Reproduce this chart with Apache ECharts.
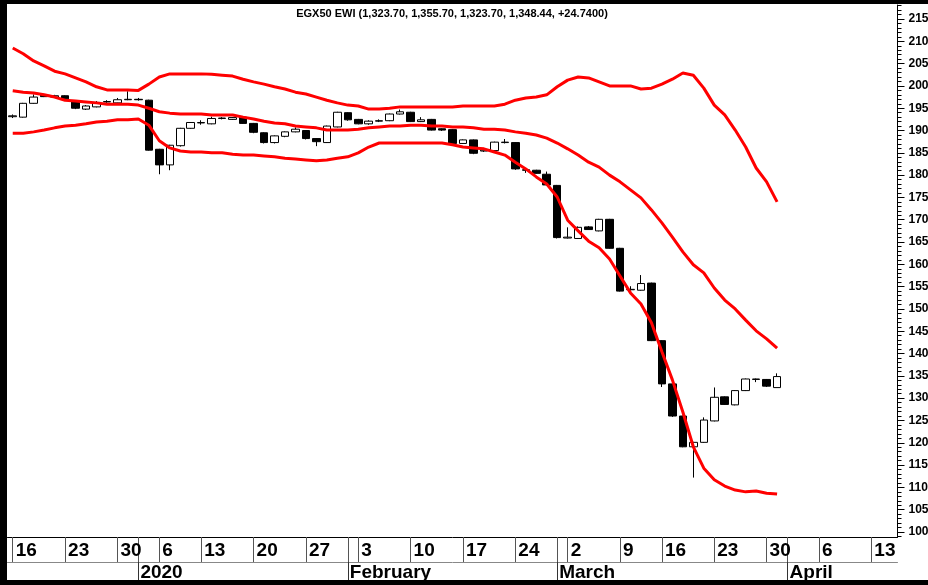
<!DOCTYPE html>
<html><head><meta charset="utf-8">
<script src="https://cdn.jsdelivr.net/npm/echarts@6/dist/echarts.min.js"></script>
<style>html,body{margin:0;padding:0;background:#fff}#c{width:928px;height:585px}</style>
</head><body><div id="c"></div>
<script>
// Trading days (category axis), Dec 16 2019 .. Apr 15 2020
const dates = [
"2019-12-16","2019-12-17","2019-12-18","2019-12-19","2019-12-22","2019-12-23","2019-12-24","2019-12-25","2019-12-26","2019-12-29","2019-12-30","2019-12-31",
"2020-01-02","2020-01-05","2020-01-06","2020-01-08","2020-01-09","2020-01-12","2020-01-13","2020-01-14","2020-01-15","2020-01-16","2020-01-19","2020-01-20","2020-01-21","2020-01-22","2020-01-23","2020-01-26","2020-01-27","2020-01-28","2020-01-29","2020-01-30",
"2020-02-02","2020-02-03","2020-02-04","2020-02-05","2020-02-06","2020-02-09","2020-02-10","2020-02-11","2020-02-12","2020-02-13","2020-02-16","2020-02-17","2020-02-18","2020-02-19","2020-02-20","2020-02-23","2020-02-24","2020-02-25","2020-02-26","2020-02-27",
"2020-03-01","2020-03-02","2020-03-03","2020-03-04","2020-03-05","2020-03-08","2020-03-09","2020-03-10","2020-03-11","2020-03-15","2020-03-16","2020-03-17","2020-03-18","2020-03-19","2020-03-22","2020-03-23","2020-03-24","2020-03-25","2020-03-26","2020-03-29","2020-03-30","2020-03-31",
"2020-04-01","2020-04-02","2020-04-05","2020-04-06","2020-04-07","2020-04-08","2020-04-09","2020-04-12","2020-04-13","2020-04-14","2020-04-15"
];
const monthLabels = {"01":"2020","02":"February","03":"March","04":"April"};

const opens  = [1931,1930,1961,1980,1975,1978,1966,1948,1953,1964,1962,1969,1970,1968,1858,1823,1866,1905,1917,1915,1927,1925,1930,1916,1895,1873,1887,1897,1900,1882,1873,1908,1940,1925,1915,1921,1922,1937,1941,1920,1925,1904,1902,1871,1879,1854,1855,1873,1873,1812,1811,1802,1777,1659,1658,1684,1675,1701,1636,1543,1542,1558,1429,1332,1260,1191,1201,1249,1303,1285,1317,1342,1342,1323.7];
const closes = [1933,1961,1975,1976,1978,1971,1950,1955,1963,1965,1969,1970,1969,1856,1823,1867,1905,1918,1918,1927,1928,1929,1916,1896,1873,1888,1897,1903,1882,1875,1910,1941,1924,1915,1921,1922,1937,1942,1920,1924,1901,1901,1871,1879,1849,1856,1874,1874,1814,1811,1804,1778,1660,1661,1683,1678,1701,1636,1540,1544,1557,1429,1332,1260,1191,1201,1251,1302,1286,1317,1343,1343,1327,1348.44];
const lows   = [1928,1929,1960,1975,1973,1970,1948,1946,1952,1962,1961,1968,1967,1855,1802,1811,1864,1904,1913,1914,1925,1924,1915,1894,1871,1871,1885,1896,1880,1865,1872,1907,1922,1914,1913,1919,1921,1936,1919,1919,1900,1899,1870,1870,1847,1852,1854,1871,1812,1805,1803,1777,1658,1658,1657,1677,1674,1635,1539,1541,1541,1428,1325,1258,1190,1122,1200,1248,1285,1284,1316,1336,1325,1323.7];
const highs  = [1936,1962,1981,1982,1980,1979,1967,1957,1966,1968,1973,1988,1973,1969,1859,1868,1906,1919,1923,1931,1930,1930,1931,1917,1896,1889,1898,1907,1901,1883,1911,1942,1941,1926,1923,1925,1938,1947,1942,1930,1926,1905,1903,1880,1880,1858,1875,1881,1874,1814,1812,1808,1778,1683,1685,1686,1702,1702,1637,1551,1576,1559,1430,1333,1261,1202,1257,1324,1304,1318,1344,1344,1343,1355.7];

const upperBand  = [2085,2072,2056,2045,2033,2027,2018,2009,1998,1991,1991,1991,1990,2004,2020,2027,2027,2027,2027,2026,2024,2022,2015,2009,2004,1998,1993,1986,1982,1975,1968,1962,1957,1955,1948,1948,1950,1953,1953,1953,1953,1953,1953,1955,1955,1955,1955,1959,1968,1973,1975,1980,1998,2013,2020,2018,2009,2000,2000,2000,1993,1995,2004,2015,2029,2024,1995,1957,1935,1901,1863,1816,1785,1740];
const middleBand = [1989,1986,1984,1980,1975,1968,1966,1964,1962,1959,1959,1959,1957,1950,1942,1939,1937,1937,1937,1935,1935,1935,1930,1926,1921,1917,1915,1910,1908,1906,1901,1901,1901,1903,1906,1908,1910,1910,1912,1912,1910,1910,1908,1908,1906,1903,1903,1901,1897,1894,1890,1883,1872,1859,1845,1829,1818,1800,1785,1767,1749,1722,1693,1661,1628,1599,1581,1547,1520,1500,1475,1451,1433,1412];
const lowerBand  = [1894,1894,1897,1901,1906,1910,1912,1915,1919,1921,1924,1924,1926,1912,1877,1861,1854,1852,1852,1850,1850,1847,1845,1845,1843,1841,1838,1836,1834,1832,1834,1838,1841,1850,1863,1872,1872,1872,1872,1872,1872,1872,1868,1863,1861,1859,1852,1845,1829,1814,1796,1780,1751,1699,1675,1652,1637,1612,1574,1536,1511,1469,1404,1341,1269,1191,1143,1117,1103,1094,1090,1092,1087,1085];

const yTickLabels = [1000,1050,1100,1150,1200,1250,1300,1350,1400,1450,1500,1550,1600,1650,1700,1750,1800,1850,1900,1950,2000,2050,2100,2150];
const titleText = "EGX50 EWI (1,323.70, 1,355.70, 1,323.70, 1,348.44, +24.7400)";

const YMIN = 988.8, YMAX = 2181.4;
const minorTicks = [];
for (let v = 990; v <= 2180; v += 10) minorTicks.push(v);

function dow(s){ const p = s.split('-'); return new Date(+p[0], +p[1]-1, +p[2]).getDay(); }
const isWeek = dates.map(s => dow(s) === 1);
const isMonth = dates.map((s,i) => i > 0 && s.slice(5,7) !== dates[i-1].slice(5,7));

const candleData = opens.map((o,i) => [o, closes[i], lows[i], highs[i]]);
const FONT = "'Liberation Sans', Arial, sans-serif";

const chart = echarts.init(document.getElementById('c'), null, {renderer:'canvas'});
const bandLine = (name, data) => ({
  name, type:'line', data, xAxisIndex:0, yAxisIndex:0, showSymbol:false, symbol:'none',
  lineStyle:{color:'#ff0000', width:3}, z:5, silent:true, animation:false
});
chart.setOption({
  animation:false,
  backgroundColor:'#ffffff',
  title:{text:titleText, left:452, top:8, padding:0, textAlign:'center',
    textStyle:{fontFamily:FONT, fontSize:11, fontWeight:'bold', color:'#000'}},
  grid:{left:7.5, right:30.5, top:5, bottom:48, containLabel:false, outerBoundsMode:'none'},
  xAxis:[{
    type:'category', data:dates, position:'bottom', boundaryGap:true,
    axisLine:{show:true, lineStyle:{color:'#000', width:1}},
    axisTick:{show:true, alignWithLabel:true, interval:(i)=>isWeek[i]||isMonth[i], length:25, lineStyle:{color:'#555'}},
    axisLabel:{interval:(i)=>isWeek[i], formatter:(v)=>String(+v.slice(8)), align:'left', padding:[0,0,0,3],
      margin:4, fontFamily:FONT, fontWeight:'bold', fontSize:19, color:'#000', hideOverlap:false},
    splitLine:{show:false}
  },{
    type:'category', data:dates, position:'bottom', offset:25, boundaryGap:true,
    axisLine:{show:true, lineStyle:{color:'#888', width:1}},
    axisTick:{show:true, alignWithLabel:true, interval:(i)=>isMonth[i], length:18, lineStyle:{color:'#333'}},
    axisLabel:{interval:(i)=>isMonth[i], formatter:(v)=>monthLabels[v.slice(5,7)], align:'left', padding:[0,0,0,2],
      margin:1, fontFamily:FONT, fontWeight:'bold', fontSize:19, color:'#000'},
    splitLine:{show:false}
  }],
  yAxis:[{
    type:'value', position:'right', min:YMIN, max:YMAX, scale:true,
    axisLine:{show:true, lineStyle:{color:'#000', width:1}},
    axisTick:{show:true, customValues:yTickLabels, length:7, lineStyle:{color:'#000'}},
    axisLabel:{customValues:yTickLabels, margin:11, fontFamily:FONT, fontWeight:'bold', fontSize:12, color:'#000',
      formatter:(v)=>String(v)},
    splitLine:{show:false}
  },{
    type:'value', position:'right', min:YMIN, max:YMAX, scale:true,
    axisLine:{show:false},
    axisTick:{show:true, customValues:minorTicks, length:4, lineStyle:{color:'#000'}},
    axisLabel:{show:false},
    splitLine:{show:false}
  }],
  series:[{
    name:'EGX50 EWI', type:'candlestick', data:candleData, xAxisIndex:0, yAxisIndex:0, barWidth:8, z:3,
    itemStyle:{color:'#ffffff', color0:'#000000', borderColor:'#000000', borderColor0:'#000000', borderWidth:1}
  },
    bandLine('upper', upperBand), bandLine('middle', middleBand), bandLine('lower', lowerBand)
  ],
  graphic:[
    {type:'rect', shape:{x:0, y:0, width:7, height:585}, style:{fill:'#000'}, z:100},
    {type:'rect', shape:{x:0, y:0, width:928, height:4}, style:{fill:'#000'}, z:100},
    {type:'rect', shape:{x:0, y:580, width:928, height:5}, style:{fill:'#000'}, z:100}
  ]
});
</script>
</body></html>
